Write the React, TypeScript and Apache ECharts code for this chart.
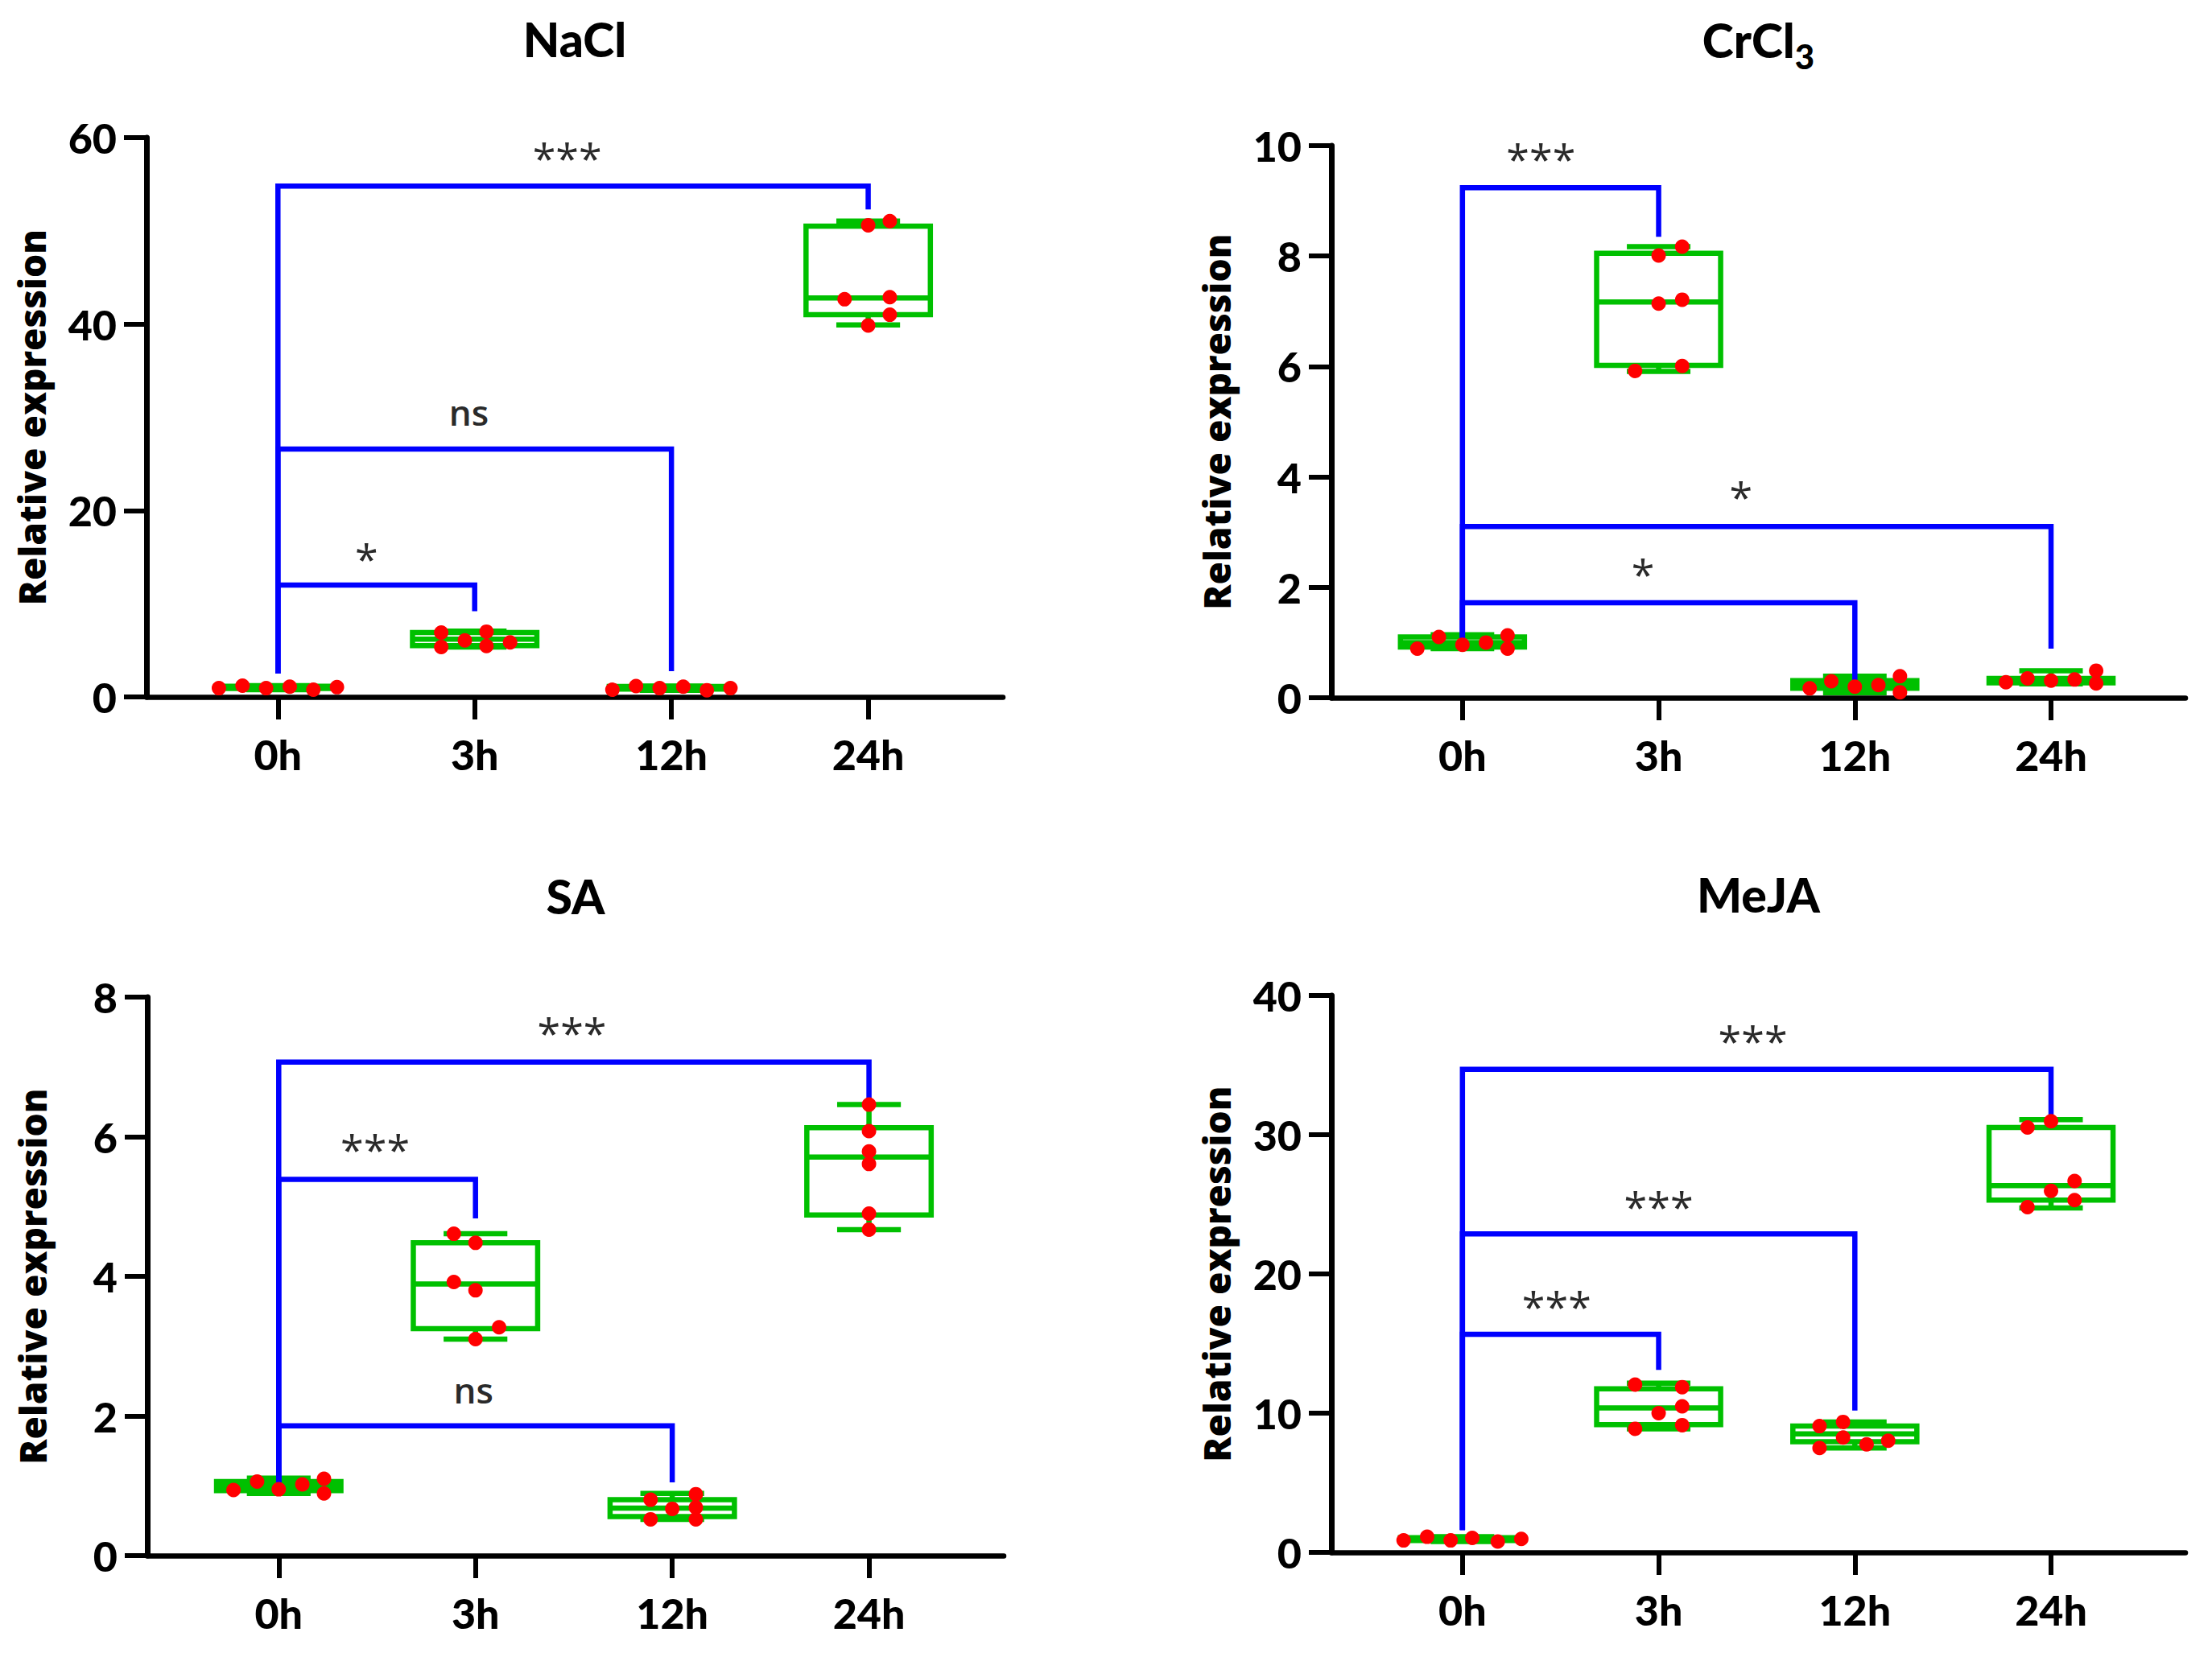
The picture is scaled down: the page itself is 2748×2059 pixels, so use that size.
import React, { useEffect, useRef } from "react";
import * as echarts from "echarts";

// ---------- data ----------
const timepoints = ["0h", "3h", "12h", "24h"];
const yMaxes = [60, 10, 8, 40];
const yIntervals = [20, 2, 2, 10];

// NaCl
const naclValues = [
  [0.94, 1.21, 0.94, 1.1, 0.77, 1.05],
  [6.9, 5.35, 6.07, 7.0, 5.46, 5.85],
  [0.77, 1.16, 0.94, 1.1, 0.72, 0.94],
  [50.6, 51.05, 42.66, 42.88, 41.0, 39.85],
];
const naclJitter = [
  [-0.3, -0.18, -0.06, 0.06, 0.18, 0.3],
  [-0.17, -0.17, -0.05, 0.06, 0.06, 0.18],
  [-0.3, -0.18, -0.06, 0.06, 0.18, 0.3],
  [0, 0.11, -0.12, 0.11, 0.11, 0],
];
const naclBox = [
  [0.77, 0.9, 1.0, 1.15, 1.21],
  [5.35, 5.5, 6.2, 6.9, 7.05],
  [0.72, 0.85, 0.94, 1.12, 1.16],
  [39.9, 41.0, 42.8, 50.5, 51.05],
];
const naclBrackets = [
  [1, 2.5, 12.0, 9.2],
  [2, 2.5, 26.6, 2.76],
  [3, 2.5, 54.8, 52.3],
];
const naclMarks = ["*", "ns", "***"];
const naclMarkPos = [
  [0.45, 15.5],
  [0.97, 30.6],
  [1.47, 58.5],
];

// CrCl3
const crValues = [
  [0.89, 1.1, 0.96, 1.0, 1.13, 0.89],
  [8.01, 8.17, 7.14, 7.21, 5.92, 6.01],
  [0.17, 0.3, 0.2, 0.23, 0.39, 0.1],
  [0.28, 0.35, 0.31, 0.33, 0.49, 0.26],
];
const crJitter = [
  [-0.23, -0.12, 0, 0.12, 0.23, 0.23],
  [0, 0.12, 0, 0.12, -0.12, 0.12],
  [-0.23, -0.12, 0, 0.12, 0.23, 0.23],
  [-0.23, -0.12, 0, 0.12, 0.23, 0.23],
];
const crBox = [
  [0.89, 0.92, 1.0, 1.1, 1.14],
  [5.91, 6.02, 7.17, 8.05, 8.17],
  [0.09, 0.17, 0.23, 0.31, 0.39],
  [0.25, 0.27, 0.31, 0.35, 0.49],
];
const crBrackets = [
  [1, 0.93, 9.24, 8.35],
  [2, 0.93, 1.72, 0.26],
  [3, 0.93, 3.1, 0.89],
];
const crMarks = ["***", "*", "*"];
const crMarkPos = [
  [0.4, 9.87],
  [0.92, 2.35],
  [1.42, 3.75],
];

// SA
const saValues = [
  [0.94, 1.06, 0.95, 1.02, 1.1, 0.89],
  [4.61, 4.48, 3.92, 3.8, 3.27, 3.1],
  [0.8, 0.67, 0.88, 0.69, 0.52, 0.52],
  [6.46, 6.08, 5.79, 5.61, 4.9, 4.67],
];
const saJitter = [
  [-0.23, -0.11, 0, 0.12, 0.23, 0.23],
  [-0.11, 0, -0.11, 0, 0.12, 0],
  [-0.11, 0, 0.12, 0.12, -0.11, 0.12],
  [0, 0, 0, 0, 0, 0],
];
const saBox = [
  [0.89, 0.93, 1.0, 1.06, 1.11],
  [3.1, 3.25, 3.89, 4.48, 4.61],
  [0.52, 0.56, 0.68, 0.8, 0.89],
  [4.67, 4.88, 5.71, 6.13, 6.46],
];
const saBrackets = [
  [1, 1.05, 5.39, 4.83],
  [2, 1.05, 1.86, 1.05],
  [3, 1.05, 7.07, 6.52],
];
const saMarks = ["***", "ns", "***"];
const saMarkPos = [
  [0.49, 5.91],
  [0.99, 2.38],
  [1.49, 7.58],
];

// MeJA
const mejaValues = [
  [0.86, 1.12, 0.86, 1.04, 0.78, 0.97],
  [12.05, 11.87, 10.49, 10.0, 8.88, 9.14],
  [9.07, 9.37, 8.25, 7.76, 8.02, 7.5],
  [30.52, 30.97, 26.68, 25.97, 25.3, 24.8],
];
const mejaJitter = [
  [-0.3, -0.18, -0.06, 0.05, 0.18, 0.3],
  [-0.12, 0.12, 0.12, 0, -0.12, 0.12],
  [-0.18, -0.06, -0.06, 0.06, 0.17, -0.18],
  [-0.12, 0, 0.12, 0, 0.12, -0.12],
];
const mejaBox = [
  [0.78, 0.85, 0.95, 1.05, 1.12],
  [8.88, 9.18, 10.37, 11.75, 12.16],
  [7.5, 7.95, 8.51, 9.07, 9.37],
  [24.74, 25.3, 26.34, 30.52, 31.08],
];
const mejaBrackets = [
  [1, 1.6, 15.67, 13.1],
  [2, 1.6, 22.87, 10.19],
  [3, 1.6, 34.7, 31.45],
];
const mejaMarks = ["***", "***", "***"];
const mejaMarkPos = [
  [0.48, 18.1],
  [1.0, 25.3],
  [1.48, 37.2],
];

const panels = [
  { title: "{m|NaCl}", values: naclValues, jitter: naclJitter, box: naclBox, brackets: naclBrackets, marks: naclMarks, markPos: naclMarkPos },
  { title: "{m|CrCl}{sub|3}", values: crValues, jitter: crJitter, box: crBox, brackets: crBrackets, marks: crMarks, markPos: crMarkPos },
  { title: "{m|SA}", values: saValues, jitter: saJitter, box: saBox, brackets: saBrackets, marks: saMarks, markPos: saMarkPos },
  { title: "{m|MeJA}", values: mejaValues, jitter: mejaJitter, box: mejaBox, brackets: mejaBrackets, marks: mejaMarks, markPos: mejaMarkPos },
];

// ---------- layout / style ----------
const GRIDS = [
  { left: 182, top: 171, width: 1064, height: 695 },
  { left: 1654, top: 181, width: 1061, height: 686 },
  { left: 183, top: 1239, width: 1064, height: 694 },
  { left: 1654, top: 1237, width: 1061, height: 692 },
];
const TITLE_TOPS = [19, 20, 1084, 1082];
const X_MIN = -0.668;
const X_MAX = 3.685;
const GREEN = "#00c000";
const BLUE = "#0000ff";
const RED = "#ff0000";
const BOX_HALF = 0.316;
const CAP_HALF = 0.162;

function buildOption() {
  const grid: any[] = [];
  const xAxis: any[] = [];
  const yAxis: any[] = [];
  const title: any[] = [];
  const series: any[] = [];

  panels.forEach((p, i) => {
    const g = GRIDS[i];
    grid.push({ ...g, containLabel: false });
    title.push({
      text: p.title,
      left: g.left + g.width / 2,
      top: TITLE_TOPS[i],
      textAlign: "center",
      padding: 0,
      textStyle: {
        fontFamily: "Lato",
        fontWeight: 900,
        fontSize: 58,
        color: "#000",
        rich: {
          m: {
            fontFamily: "Lato",
            fontWeight: 900,
            fontSize: 59,
            lineHeight: 64,
            color: "#000",
            verticalAlign: "top",
          },
          sub: {
            fontFamily: "Lato",
            fontWeight: 900,
            fontSize: 42,
            lineHeight: 40,
            padding: [29, 0, 0, 0],
            color: "#000",
            verticalAlign: "top",
          },
        },
      },
    });
    xAxis.push({
      type: "value",
      gridIndex: i,
      min: X_MIN,
      max: X_MAX,
      splitLine: { show: false },
      axisLine: { show: true, onZero: false, lineStyle: { color: "#000", width: 6.5 } },
      axisTick: {
        show: true,
        customValues: [0, 1, 2, 3],
        length: 28,
        inside: false,
        lineStyle: { color: "#000", width: 6 },
      },
      axisLabel: {
        customValues: [0, 1, 2, 3],
        formatter: (v: number) => timepoints[Math.round(v)] ?? "",
        fontFamily: "Lato",
        fontWeight: 900,
        fontSize: 52,
        color: "#000",
        margin: 45,
      },
    });
    yAxis.push({
      type: "value",
      gridIndex: i,
      min: 0,
      max: yMaxes[i],
      interval: yIntervals[i],
      splitLine: { show: false },
      axisLine: { show: true, onZero: false, lineStyle: { color: "#000", width: 7 } },
      axisTick: { show: true, length: 28, inside: false, lineStyle: { color: "#000", width: 6 } },
      axisLabel: {
        fontFamily: "Lato",
        fontWeight: 900,
        fontSize: 52,
        color: "#000",
        margin: 37,
      },
      name: "Relative expression",
      nameLocation: "middle",
      nameRotate: 90,
      nameGap: 120,
      nameTextStyle: {
        fontFamily: "Open Sans",
        fontWeight: 800,
        fontSize: 46,
        lineHeight: 46,
        color: "#000",
      },
    });

    // boxes
    series.push({
      type: "custom",
      xAxisIndex: i,
      yAxisIndex: i,
      z: 2,
      clip: false,
      encode: { x: 0, y: [1, 2, 3, 4, 5] },
      data: p.box.map((b, k) => [k, ...b]),
      renderItem: (params: any, api: any) => {
        const k = api.value(0);
        const mn = api.value(1);
        const q1 = api.value(2);
        const md = api.value(3);
        const q3 = api.value(4);
        const mx = api.value(5);
        const y = (v: number) => api.coord([k, v])[1];
        const cx = api.coord([k, 0])[0];
        const bl = api.coord([k - BOX_HALF, 0])[0];
        const br = api.coord([k + BOX_HALF, 0])[0];
        const cl = api.coord([k - CAP_HALF, 0])[0];
        const cr = api.coord([k + CAP_HALF, 0])[0];
        const st = { stroke: GREEN, lineWidth: 6.5, fill: null };
        return {
          type: "group",
          children: [
            { type: "line", shape: { x1: cx, y1: y(q3), x2: cx, y2: y(mx) }, style: st },
            { type: "line", shape: { x1: cx, y1: y(q1), x2: cx, y2: y(mn) }, style: st },
            { type: "line", shape: { x1: cl, y1: y(mx), x2: cr, y2: y(mx) }, style: st },
            { type: "line", shape: { x1: cl, y1: y(mn), x2: cr, y2: y(mn) }, style: st },
            { type: "rect", shape: { x: bl, y: y(q3), width: br - bl, height: y(q1) - y(q3) }, style: st },
            { type: "line", shape: { x1: bl, y1: y(md), x2: br, y2: y(md) }, style: st },
          ],
        };
      },
    });

    // brackets
    series.push({
      type: "custom",
      xAxisIndex: i,
      yAxisIndex: i,
      z: 3,
      clip: false,
      encode: { x: 0, y: [1, 2, 3] },
      data: p.brackets.map((b) => [...b]),
      renderItem: (params: any, api: any) => {
        const k = api.value(0);
        const a = api.coord([0, api.value(1)]);
        const b = api.coord([0, api.value(2)]);
        const c = api.coord([k, api.value(2)]);
        const d = api.coord([k, api.value(3)]);
        return {
          type: "polyline",
          shape: { points: [a, b, c, d] },
          style: { stroke: BLUE, lineWidth: 6.5, fill: null, lineJoin: "miter" },
        };
      },
    });

    // points
    const pts: number[][] = [];
    p.values.forEach((arr, k) => {
      arr.forEach((v, j) => pts.push([k + p.jitter[k][j], v]));
    });
    series.push({
      type: "scatter",
      xAxisIndex: i,
      yAxisIndex: i,
      z: 5,
      symbol: "circle",
      symbolSize: 18,
      itemStyle: { color: RED, opacity: 1 },
      data: pts,
    });

    // significance marks
    series.push({
      type: "custom",
      xAxisIndex: i,
      yAxisIndex: i,
      z: 4,
      clip: false,
      encode: { x: 0, y: 1 },
      data: p.markPos.map((m) => [...m]),
      renderItem: (params: any, api: any) => {
        const pt = api.coord([api.value(0), api.value(1)]);
        const txt = p.marks[params.dataIndex];
        const isStar = txt.indexOf("*") >= 0;
        const fs = isStar ? 52 : 44;
        return {
          type: "text",
          x: pt[0],
          y: pt[1] + (isStar ? fs * 0.13 : 0),
          style: {
            text: txt,
            fontFamily: "Open Sans",
            fontWeight: isStar ? 400 : 600,
            fontSize: fs,
            fill: "#2a2a2a",
            align: "center",
            verticalAlign: "middle",
          },
        };
      },
    });
  });

  return { animation: false, backgroundColor: "#fff", title, grid, xAxis, yAxis, series };
}

export default function App() {
  const ref = useRef<HTMLDivElement>(null);
  useEffect(() => {
    document.body.style.margin = "0";
    if (!ref.current) return;
    const chart = echarts.init(ref.current, null, { renderer: "svg" });
    chart.setOption(buildOption() as any);
    return () => chart.dispose();
  }, []);
  return <div ref={ref} style={{ width: 2748, height: 2059, background: "#fff" }} />;
}
